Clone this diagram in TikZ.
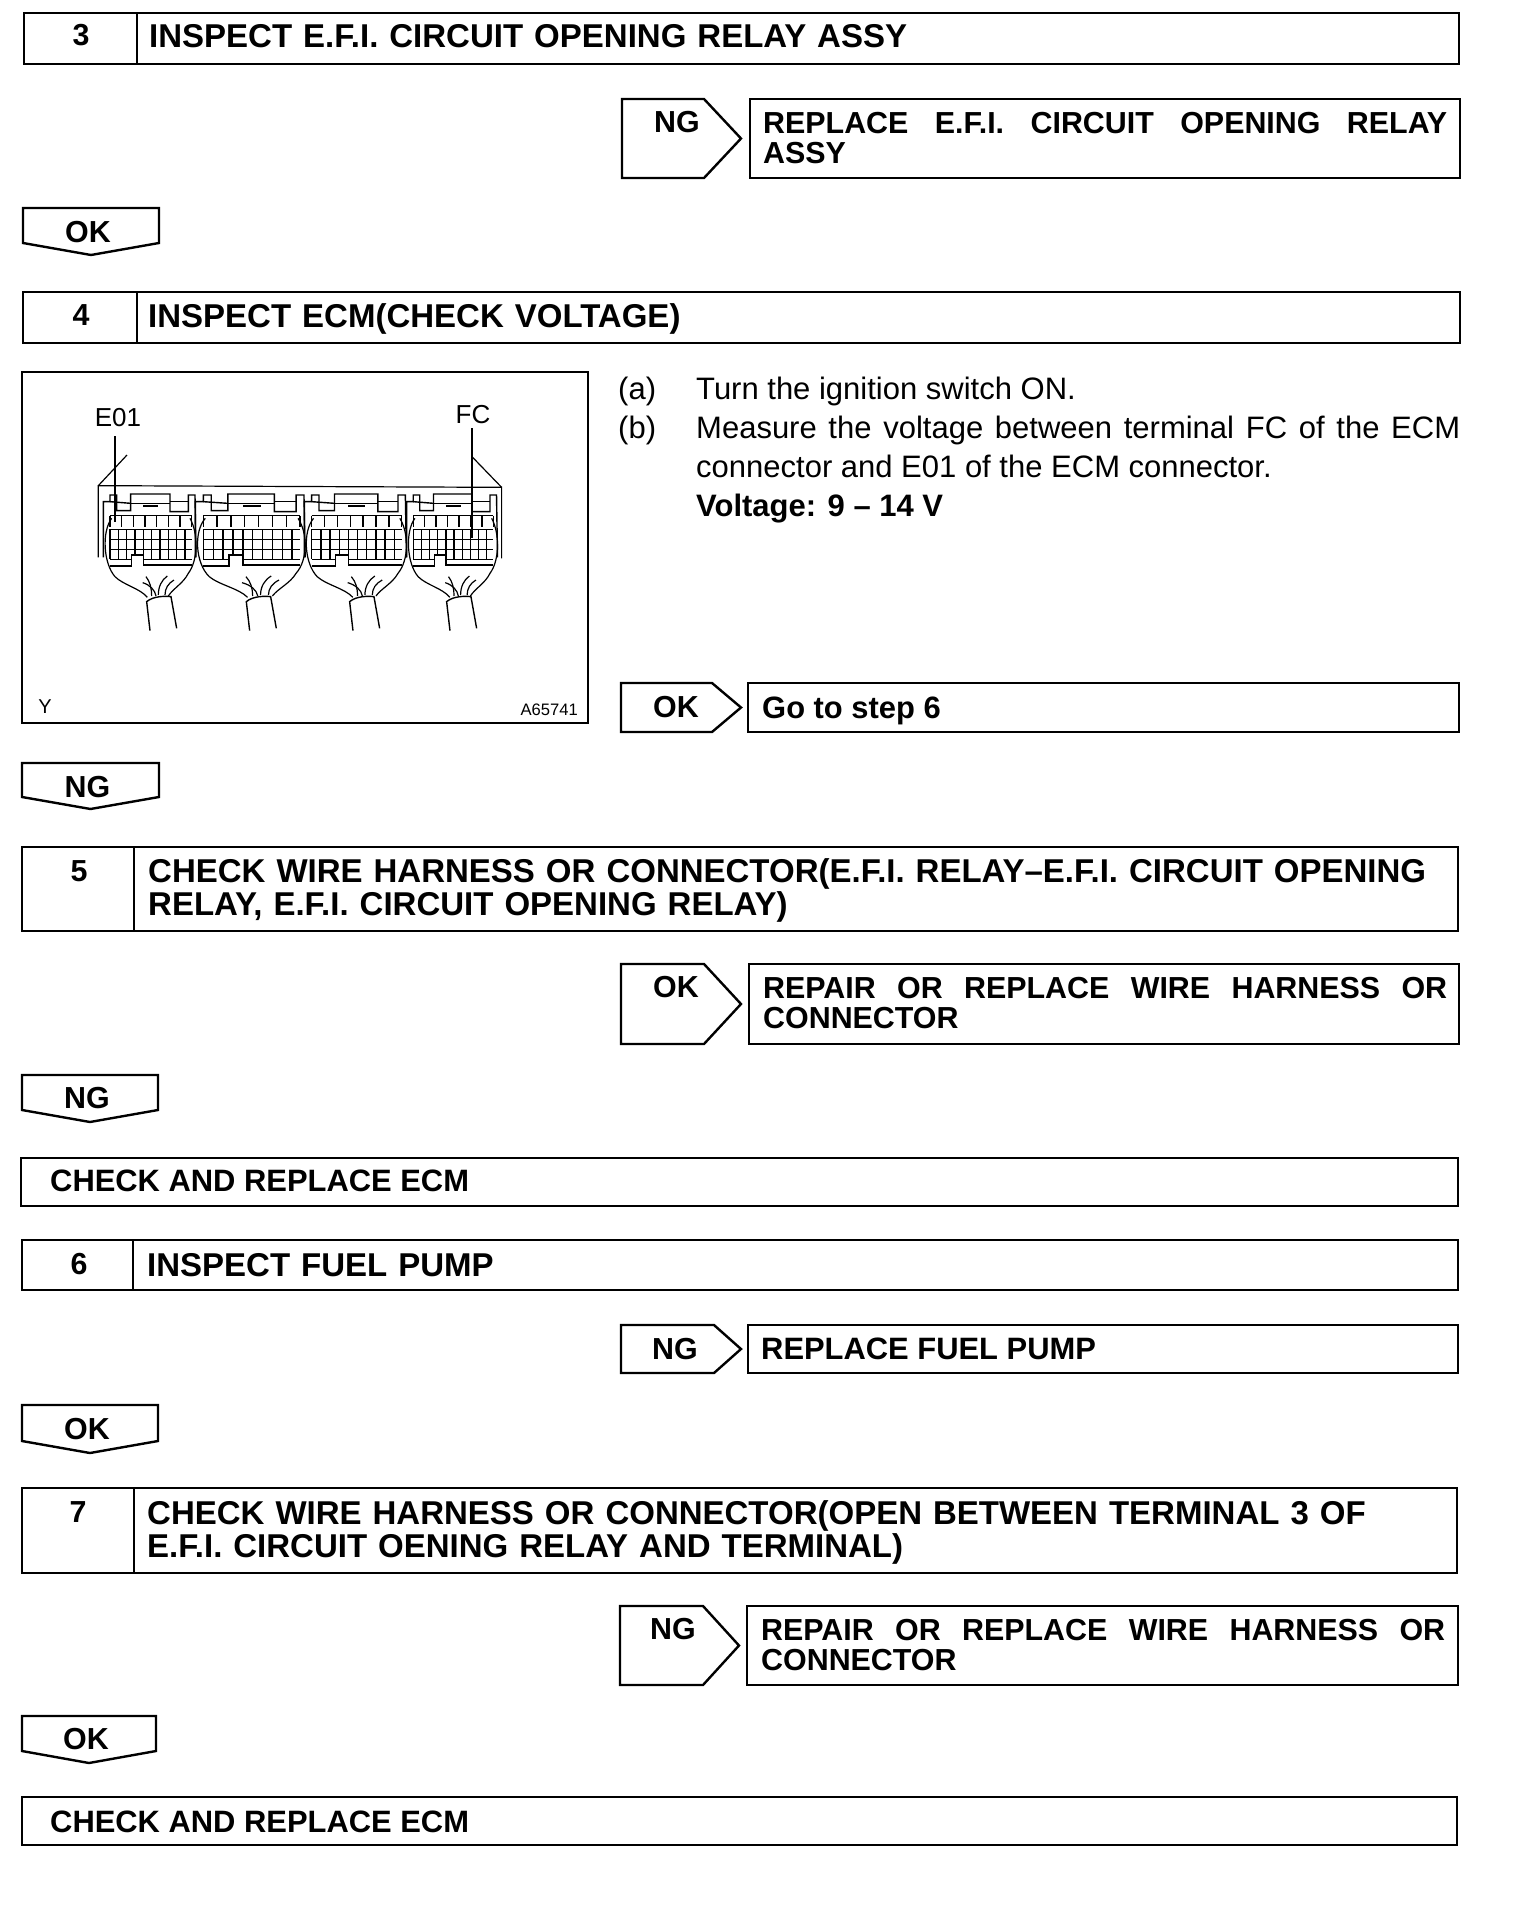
\documentclass[tikz,border=0pt]{standalone}
\usepackage{fontspec}
\setmainfont{Liberation Sans}
\tikzset{
	boxline/.style={line width=2.4pt,line join=miter},
	thinline/.style={line width=1.2pt},
	gridline/.style={line width=1.4pt},
	headtext/.style={anchor=base west,inner sep=0pt,text width=1320pt,align=left,font=\fontsize{33}{33}\selectfont\bfseries},
	plaintext/.style={anchor=base west,inner sep=0pt,font=\fontsize{30.9}{33}\selectfont\bfseries},
	flagtext/.style={anchor=base,inner sep=0pt,font=\fontsize{30.4}{33}\selectfont\bfseries},
	fixtext/.style={anchor=base west,inner sep=0pt,text width=684pt,align=justify,font=\fontsize{30.4}{30.5}\selectfont\bfseries},
	bodytext/.style={anchor=base west,inner sep=0pt,font=\fontsize{31}{39.3}\selectfont}
}
\begin{document}
\begin{tikzpicture}[x=1pt,y=-1pt]
\useasboundingbox (0,0) rectangle (1536,1916);

% Step bars with the number cell
\foreach \xa/\ya/\xd/\xb/\yb in {24/13/137/1459/64,23/292/137/1460/343,22/847/134/1458/931,22/1240/133/1458/1290,22/1488/134/1457/1573}{
	\draw [boxline] (\xa,\ya) rectangle (\xb,\yb);
	\draw [boxline] (\xd,\ya)--(\xd,\yb);
}

% Plain boxes on the right and the two last boxes
\foreach \xa/\ya/\xb/\yb in {750/99/1460/178,748/683/1459/732,749/964/1459/1044,748/1325/1458/1373,747/1606/1458/1685,21/1158/1458/1206,22/1797/1457/1845}
	\draw [boxline] (\xa,\ya) rectangle (\xb,\yb);

% Flags pointing right
\foreach \xa/\xs/\xb/\ya/\yb/\lab/\tx/\ty in {622/704/741/99/178/NG/677/132,621/712/741/683/732/OK/676/717,621/704/741/964/1044/OK/676/997,621/714/741/1325/1373/NG/675/1359,620/703/739/1606/1685/NG/673/1639}{
	\draw [boxline] (\xa,\ya)--(\xs,\ya)--(\xb,{(\ya+\yb)/2})--(\xs,\yb)--(\xa,\yb)--cycle;
	\node [flagtext] (r\lab\ty) at (\tx,\ty) {\lab};
}

% Flags pointing down
\foreach \xa/\xb/\ya/\yb/\lab/\ty in {23/159/208/255/OK/242,22/159/763/809/NG/797,22/158/1075/1122/NG/1108,22/158/1405/1453/OK/1439,22/156/1716/1763/OK/1749}{
	\draw [boxline] (\xa,\ya)--(\xb,\ya)--(\xb,\yb-12)--({(\xa+\xb)/2},\yb)--(\xa,\yb-12)--cycle;
	\node [flagtext] (d\lab\ty) at ({(\xa+\xb)/2-3},\ty) {\lab};
}

% Step numbers
\foreach \n/\x/\y in {3/81/46,4/81/325,5/79/881,6/79/1274,7/78/1522}
	\node [flagtext] (n\n) at (\x,\y) {\n};

% Step titles
\node [headtext] (t3) at (149,48) {INSPECT E.F.I. CIRCUIT OPENING RELAY ASSY};
\node [headtext] (t4) at (148,327) {INSPECT ECM(CHECK VOLTAGE)};
\node [headtext] (t5) at (148,882) {CHECK WIRE HARNESS OR CONNECTOR(E.F.I. RELAY--E.F.I. CIRCUIT OPENING\\RELAY, E.F.I. CIRCUIT OPENING RELAY)};
\node [headtext] (t6) at (147,1276) {INSPECT FUEL PUMP};
\node [headtext] (t7) at (147,1524) {CHECK WIRE HARNESS OR CONNECTOR(OPEN BETWEEN TERMINAL 3 OF\\E.F.I. CIRCUIT OENING RELAY AND TERMINAL)};
\node [plaintext] (end1) at (50,1191) {CHECK AND REPLACE ECM};
\node [plaintext] (end2) at (50,1832) {CHECK AND REPLACE ECM};

% Texts of the right boxes
\node [fixtext] (fix3) at (763,133) {REPLACE E.F.I. CIRCUIT OPENING RELAY ASSY};
\node [plaintext] (go6) at (762,718) {Go to step 6};
\node [fixtext] (fix5) at (763,998) {REPAIR OR REPLACE WIRE HARNESS OR CONNECTOR};
\node [plaintext] (fix6) at (761,1359) {REPLACE FUEL PUMP};
\node [fixtext] (fix7) at (761,1640) {REPAIR OR REPLACE WIRE HARNESS OR CONNECTOR};

% Instructions of step 4
\node [bodytext] (a) at (618,399) {(a)};
\node [bodytext] (b) at (618,438) {(b)};
\node [bodytext] (aa) at (696,399) {Turn the ignition switch ON.};
\node [bodytext,text width=764pt,align=justify] (bb) at (696,438) {Measure the voltage between terminal FC of the ECM connector and E01 of the ECM connector.};
\node [bodytext] (volt) at (696,516) {\bfseries Voltage: 9 -- 14 V};

% Frame of the figure
\draw [boxline] (22,372) rectangle (588,723);
\node [inner sep=0pt,font=\fontsize{26}{26}\selectfont] (e01) at (118,418) {E01};
\node [inner sep=0pt,font=\fontsize{26}{26}\selectfont] (fc) at (473,415) {FC};
\node [inner sep=0pt,font=\fontsize{20}{20}\selectfont] (y) at (45,707) {Y};
\node [inner sep=0pt,anchor=east,font=\fontsize{16.6}{16.6}\selectfont] (code) at (578,710) {A65741};

% Connector figure, one unit is a third of a point
\begin{scope}[shift={(90pt,-470pt)},x=0.3333pt,y=-0.3333pt]
\draw [thinline] (25,47)--(111,-45);
\draw [thinline] (1235,52)--(1147,-39);
\draw [thinline] (25,262)--(25,47)--(1235,52)--(1235,265);
\draw [thinline] (75,-102)--(75,155);
\draw [thinline] (1146,-126)--(1146,205);
\foreach \ox/\s in {0/1,269/1.184,599/1.102,911/0.98}{
\begin{scope}[shift={(\ox,0)},xscale=\s]
	% housing top
	\draw [gridline] (40,262)--(40,95)--(60,95)--(60,75)--(80,75)--(80,122)--(122,122)--(122,72)--(240,72)--(240,125)--(295,125)--(295,75)--(315,75)--(318,262);
	\draw [gridline] (60,95)--(122,100);
	\draw [gridline] (122,100)--(240,100);
	\draw [line width=2.2pt] (160,108)--(205,108);
	\draw [gridline] (240,95)--(295,95);
	% upper row of pins
	\draw [gridline] (60,137)--(305,137);
	\foreach \gx in {60,95,...,305}
		\draw [gridline] (\gx,137)--(\gx,172);
	% lower rows of pins
	\foreach \gy in {178,208,238,268}
		\draw [gridline] (60,\gy)--(305,\gy);
	\foreach \gx in {60,85,...,305}
		\draw [gridline] (\gx,178)--(\gx,268);
	% key notch
	\fill [white] (125,290) rectangle (160,255);
	\draw [gridline] (60,288)--(125,288)--(125,255)--(160,255)--(160,285)--(305,285);
	% hood
	\draw [thinline] (65,145) .. controls (35,185) and (40,280) .. (75,320) .. controls (100,345) and (150,355) .. (172,382);
	\draw [thinline] (300,145) .. controls (325,190) and (325,270) .. (295,310) .. controls (280,340) and (250,355) .. (235,378);
	% wires into the cable
	\draw [thinline] (185,378) .. controls (185,355) and (180,335) .. (168,320);
	\draw [thinline] (198,378) .. controls (195,360) and (180,345) .. (158,338);
	\draw [thinline] (205,375) .. controls (205,350) and (215,330) .. (232,318);
	\draw [thinline] (225,375) .. controls (225,355) and (235,340) .. (252,330);
\end{scope}
}
% cables
\foreach \cx in {0,299,609,900}
	\draw [gridline] (\cx+180,482)--(\cx+170,395) .. controls (\cx+190,378) and (\cx+225,378) .. (\cx+243,380)--(\cx+260,475);
\end{scope}
\end{tikzpicture}
\end{document}
